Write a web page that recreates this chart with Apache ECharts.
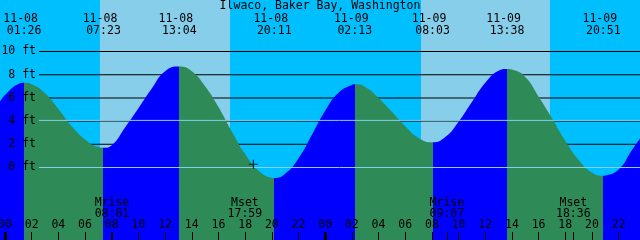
<!DOCTYPE html>
<html><head><meta charset="utf-8">
<script src="https://cdn.jsdelivr.net/npm/echarts@6/dist/echarts.min.js"></script>
<style>html,body{margin:0;padding:0;background:#00BFFF}#c{width:640px;height:240px}</style>
</head><body><div id="c"></div>
<script>
// ---------- data ----------
const chartTitle = 'Ilwaco, Baker Bay, Washington';
// tide curve samples: hours after 11-08 00:00, height in feet
const sampleHours = [-0.375, 0, 1, 2, 3, 4, 5, 6, 7, 8, 9, 10, 11, 12, 14, 15, 16, 17, 18, 19, 20,
  21, 22, 23, 24, 25, 26, 27, 28, 29, 30, 31, 33, 34, 35, 36, 37, 38, 39, 40, 41, 42, 43, 44, 45, 46, 47, 47.6];
const sampleFeet = [5.67, 6.24, 7.2, 7.18, 6.4, 5.05, 3.55, 2.42, 1.76, 1.92, 3.45, 5.1, 6.8, 8.3, 8.3, 7.0, 5.21, 3.11, 1.16, -0.26, -0.88,
  -0.54, 0.77, 2.8, 4.9, 6.45, 7.12, 6.95, 6.0, 4.8, 3.55, 2.55, 2.62, 3.95, 5.64, 7.3, 8.35, 8.44, 7.8, 6.1, 4.25, 2.3, 0.65, -0.44, -0.7, -0.18, 1.5, 2.5];
// tide extremes
const tideDates = ['11-08', '11-08', '11-08', '11-08', '11-09', '11-09', '11-09', '11-09'];
const tideTimes = ['01:26', '07:23', '13:04', '20:11', '02:13', '08:03', '13:38', '20:51'];
const tideFeet = [7.3, 1.7, 8.7, -0.9, 7.17, 2.17, 8.5, -0.72];
const tideKinds = ['H', 'L', 'H', 'L', 'H', 'L', 'H', 'L'];
// moon
const moonNames = ['Mrise', 'Mset', 'Mrise', 'Mset'];
const moonDates = ['11-08', '11-08', '11-09', '11-09'];
const moonTimes = ['08:01', '17:59', '09:07', '18:36'];
// daylight
const sunDates = ['11-08', '11-09'];
const sunrises = ['07:07', '07:11'];
const sunsets = ['16:52', '16:51'];
// axes
const hourTicks = [0, 2, 4, 6, 8, 10, 12, 14, 16, 18, 20, 22, 24, 26, 28, 30, 32, 34, 36, 38, 40, 42, 44, 46];
const midnightTicks = [0, 24];
const feetTicks = [0, 2, 4, 6, 8, 10];
const datumLevels = [0, 4.06];
// current time marker
const nowDate = '11-08', nowTime = '18:37', nowFeet = 0.28;

// ---------- build ----------
const FONT = 'DejaVu Sans Mono';
const FS = 11.5;
const dayOffset = {'11-08': 0, '11-09': 24};
function toH(d, t) { const p = t.split(':').map(Number); return dayOffset[d] + p[0] + p[1] / 60; }
const X_MIN = -0.375, X_MAX = 47.6, Y_MIN = -6.25, Y_MAX = 14.44;
const BLUE = '#0000FF', GREEN = '#2E8B57', SKY = '#00BFFF', DAY = '#87CEEB', PALE = '#87CEEB';
const PX_FT = (Y_MAX - Y_MIN) / 240; // feet per pixel

const eventH = tideDates.map((d, i) => toH(d, tideTimes[i]));
const moonH = moonDates.map((d, i) => toH(d, moonTimes[i]));
const pts = sampleHours.map((h, i) => [h, sampleFeet[i]])
  .concat(eventH.map((h, i) => [h, tideFeet[i]]))
  .sort((a, b) => a[0] - b[0]);

// falling (after high) = green, rising (after low) = blue; hard stops at each tide extreme
const bounds = [X_MIN].concat(eventH, [X_MAX]);
const segColors = [tideKinds[0] === 'H' ? BLUE : GREEN].concat(tideKinds.map(k => k === 'H' ? GREEN : BLUE));
const stops = [];
segColors.forEach((c, i) => {
  const a = (bounds[i] - X_MIN) / (X_MAX - X_MIN), b = (bounds[i + 1] - X_MIN) / (X_MAX - X_MIN);
  stops.push({offset: Math.max(0, Math.min(1, a)), color: c}, {offset: Math.max(0, Math.min(1, b)), color: c});
});
const fillGradient = new echarts.graphic.LinearGradient(0, 0, 1, 0, stops);

const lineX0 = X_MIN + 39 / 640 * (X_MAX - X_MIN);
const findIdx = (arr, v) => arr.findIndex(a => Math.abs(a - v) < 1e-6);

// background areas: daylight bands, then 1px black grid strips (both sit beneath the tide fill)
const bandAreas = sunDates.map((d, i) => [
  {xAxis: toH(d, sunrises[i]), itemStyle: {color: DAY, opacity: 1}},
  {xAxis: toH(d, sunsets[i])}]);
const gridAreas = feetTicks.map(v => [
  {coord: [lineX0, v - PX_FT / 2], itemStyle: {color: '#000', opacity: 1}},
  {coord: [X_MAX, v + PX_FT / 2]}]);

const axisBase = {type: 'value', min: X_MIN, max: X_MAX, axisLine: {show: false, onZero: false}, splitLine: {show: false}, z: 10};
const lbl = {color: '#000', fontFamily: FONT, fontSize: FS};

const paleSeries = datumLevels.map(v => ({
  type: 'line', xAxisIndex: 0, yAxisIndex: 0, z: 4, silent: true, symbol: 'none',
  data: [[lineX0, v], [X_MAX, v]], lineStyle: {color: PALE, width: 1}
}));

const tideSeries = {type: 'line', xAxisIndex: 0, yAxisIndex: 0, data: pts, smooth: true,
  symbol: 'none', silent: true, z: 2, lineStyle: {width: 0}, itemStyle: {color: GREEN, opacity: 1},
  areaStyle: {opacity: 1, color: fillGradient, origin: 'start'}};
const backSeries = {type: 'line', xAxisIndex: 0, yAxisIndex: 0, data: [], z: 1, silent: true,
  markArea: {silent: true, label: {show: false}, data: bandAreas.concat(gridAreas)}};
const nowSeries = {type: 'scatter', xAxisIndex: 0, yAxisIndex: 0, z: 5, silent: true,
  data: [[toH(nowDate, nowTime), nowFeet]],
  symbol: 'path://M0,3.5H8V4.5H0Z M3.5,0H4.5V8H3.5Z', symbolSize: 9, itemStyle: {color: '#000'}};

const option = {
  animation: false,
  backgroundColor: SKY,
  textStyle: {fontFamily: FONT},
  title: {text: chartTitle, left: 'center', top: 0, padding: 0,
    textStyle: {fontFamily: FONT, fontSize: FS, fontWeight: 'normal', color: '#000'}},
  grid: {left: 0, right: 0, top: 0, bottom: 0, containLabel: false, outerBoundsMode: 'none'},
  xAxis: [
    Object.assign({}, axisBase, {position: 'bottom',
      axisTick: {show: true, inside: true, length: 8, customValues: hourTicks, lineStyle: {color: '#000', width: 1}},
      axisLabel: Object.assign({}, lbl, {inside: true, margin: 9, interval: 0, customValues: hourTicks,
        formatter: v => String(((Math.round(v) % 24) + 24) % 24).padStart(2, '0')})}),
    Object.assign({}, axisBase, {position: 'bottom',
      axisTick: {show: true, inside: true, length: 8, customValues: midnightTicks, lineStyle: {color: '#000', width: 3}},
      axisLabel: {show: false}}),
    Object.assign({}, axisBase, {position: 'bottom',
      axisTick: {show: true, inside: true, length: 8, customValues: moonH, lineStyle: {color: '#000', width: 1}},
      axisLabel: Object.assign({}, lbl, {inside: true, margin: 20, interval: 0, lineHeight: 11, customValues: moonH,
        formatter: v => { const i = findIdx(moonH, v); return moonNames[i] + '\n' + moonTimes[i]; }})}),
    Object.assign({}, axisBase, {position: 'top',
      axisTick: {show: false},
      axisLabel: Object.assign({}, lbl, {inside: true, margin: 13.5, interval: 0, lineHeight: 11, customValues: eventH,
        formatter: v => { const i = findIdx(eventH, v); return '{d|' + tideDates[i] + '}\n{t|' + tideTimes[i] + '}'; },
        rich: {
          d: {align: 'center', padding: [0, 7, 0, 0], color: '#000', fontFamily: FONT, fontSize: FS, lineHeight: 11.5},
          t: {align: 'center', color: '#000', fontFamily: FONT, fontSize: FS, lineHeight: 11.5}
        }})})
  ],
  yAxis: {type: 'value', min: Y_MIN, max: Y_MAX, z: 10,
    axisLine: {show: false, onZero: false}, axisTick: {show: false}, splitLine: {show: false},
    axisLabel: Object.assign({}, lbl, {inside: true, margin: 36, align: 'right', customValues: feetTicks,
      formatter: v => v + ' ft'})},
  // draw order: bands + black grid strips, tide fill, pale datum lines, marker
  series: [backSeries, tideSeries].concat(paleSeries, [nowSeries])
};
const chart = echarts.init(document.getElementById('c'), null, {renderer: 'canvas'});
chart.setOption(option);
</script></body></html>
